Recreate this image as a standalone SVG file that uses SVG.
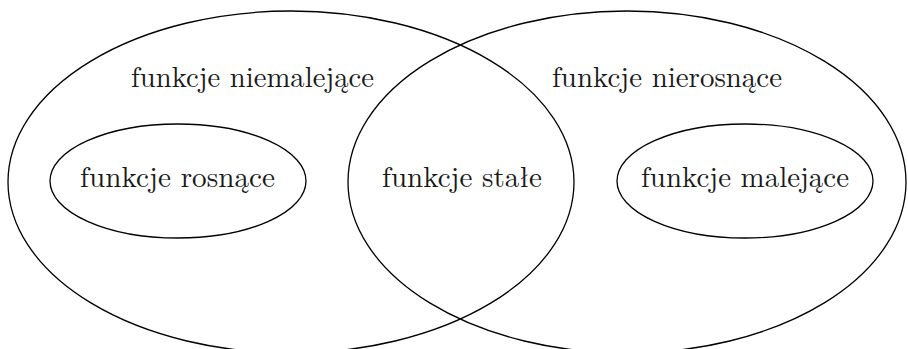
<svg xmlns="http://www.w3.org/2000/svg" width="908" height="349" viewBox="0 0 908 349">
  <style>
    .set { fill: none; stroke: #000; stroke-width: 1.3; }
    .lbl { font-family: "Latin Modern Roman", "CMU Serif", "Liberation Serif", serif; font-size: 28.6px; fill: #1a1a1a; }
  </style>
  <rect width="908" height="349" fill="#fff"/>
  <g id="niemalejace">
    <ellipse class="set" cx="291" cy="182" rx="283" ry="171"/>
    <text class="lbl" x="131" y="87" textLength="243" lengthAdjust="spacingAndGlyphs">funkcje niemalejące</text>
  </g>
  <g id="nierosnace">
    <ellipse class="set" cx="627" cy="182" rx="279" ry="171"/>
    <text class="lbl" x="552" y="87" textLength="230" lengthAdjust="spacingAndGlyphs">funkcje nierosnące</text>
  </g>
  <g id="rosnace">
    <ellipse class="set" cx="178" cy="181" rx="128" ry="57"/>
    <text class="lbl" x="80" y="187" textLength="195" lengthAdjust="spacingAndGlyphs">funkcje rosnące</text>
  </g>
  <g id="stale">
    <text class="lbl" x="382" y="187" textLength="160" lengthAdjust="spacingAndGlyphs">funkcje stałe</text>
  </g>
  <g id="malejace">
    <ellipse class="set" cx="745" cy="181" rx="128" ry="57"/>
    <text class="lbl" x="641" y="187" textLength="208" lengthAdjust="spacingAndGlyphs">funkcje malejące</text>
  </g>
  <g id="connectors"/>
</svg>
